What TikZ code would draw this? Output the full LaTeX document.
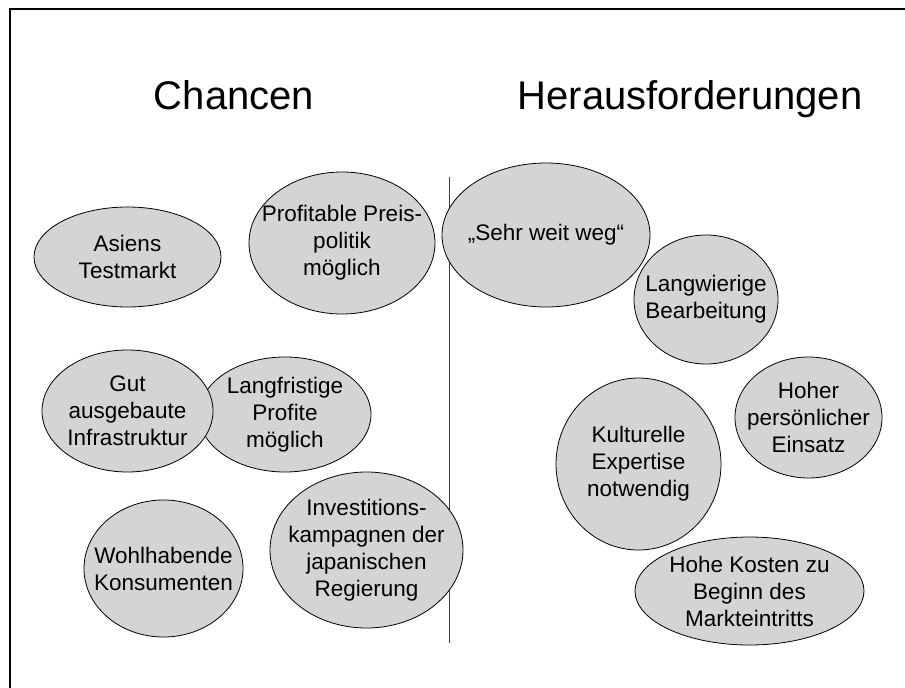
\documentclass[tikz,border=0pt]{standalone}
\usepackage{fontspec}
\setmainfont{Liberation Sans}
\usetikzlibrary{shapes.geometric}
\definecolor{bubblegray}{RGB}{212,212,212}
\begin{document}
\begin{tikzpicture}[
		x=1pt, y=-1pt,
		title/.style={anchor=base,font=\fontsize{40}{48}\selectfont},
		bubble/.style={ellipse,draw=black,line width=0.8pt,fill=bubblegray,
			inner xsep=-15pt,inner ysep=0pt,
			align=center,font=\fontsize{22.5}{27}\selectfont},
		divider/.style={draw=black!75,line width=1pt}
	]
		\useasboundingbox (0,0) rectangle (905,688);
		\draw[line width=2pt] (10,688) -- (10,9) -- (905,9);

		\node[title] (chancen) at (234,109) {Chancen};
		\node[title] (heraus) at (690,109) {Herausforderungen};

		\coordinate (divtop) at (449,177);
		\coordinate (divbot) at (449,643);
		\draw[divider] (divtop) -- (divbot);

		% Chancen
		\node[bubble,minimum width=187pt,minimum height=100pt] (asiens) at (127.5,257) {Asiens\\Testmarkt};
		\node[bubble,minimum width=186pt,minimum height=142pt] (preis) at (342,243) {Profitable Preis-\\politik\\möglich};
		\node[bubble,minimum width=172pt,minimum height=115pt] (profite) at (285,414.5) {Langfristige\\Profite\\möglich};
		\node[bubble,minimum width=171pt,minimum height=122pt] (infra) at (127.5,411) {Gut\\ausgebaute\\Infrastruktur};
		\node[bubble,minimum width=159pt,minimum height=137pt] (konsum) at (163.5,568.5) {Wohlhabende\\Konsumenten};
		\node[bubble,minimum width=193pt,minimum height=156pt] (invest) at (366.5,550) {Investitions-\\kampagnen der\\japanischen\\Regierung};

		% Herausforderungen
		\node[bubble,minimum width=208pt,minimum height=144pt] (weit) at (546,235) {„Sehr weit weg“};
		\node[bubble,minimum width=144pt,minimum height=129pt] (bearb) at (706,299.5) {Langwierige\\Bearbeitung};
		\node[bubble,minimum width=147pt,minimum height=121pt] (einsatz) at (808.5,417.5) {Hoher\\persönlicher\\Einsatz};
		\node[bubble,minimum width=165pt,minimum height=172pt] (kultur) at (638.5,464) {Kulturelle\\Expertise\\notwendig};
		\node[bubble,minimum width=229pt,minimum height=108pt] (kosten) at (749.5,591) {Hohe Kosten zu\\Beginn des\\Markteintritts};
	\end{tikzpicture}
\end{document}
